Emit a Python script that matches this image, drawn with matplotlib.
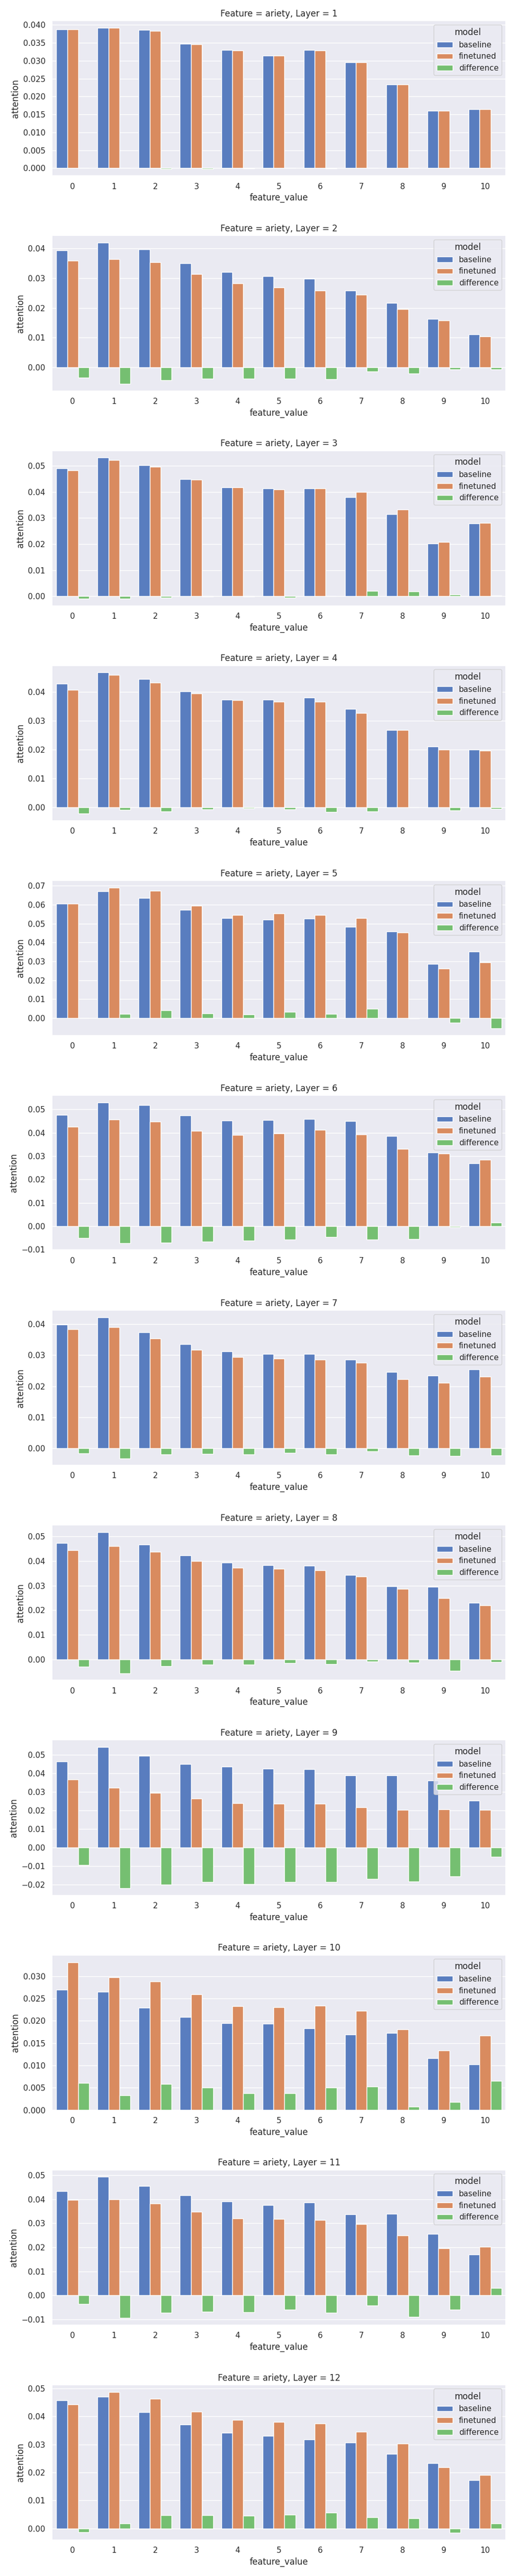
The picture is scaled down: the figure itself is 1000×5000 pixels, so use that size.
import matplotlib
matplotlib.use("Agg")
import matplotlib.pyplot as plt
import pandas as pd
import seaborn as sns

feature_values = list(range(11))
models = ["baseline", "finetuned", "difference"]

# attention per layer
baseline = {
    1: [0.0388, 0.0392, 0.0386, 0.0348, 0.0330, 0.0314, 0.0330, 0.0296, 0.0234, 0.0161, 0.0164],
    2: [0.0394, 0.0419, 0.0396, 0.0350, 0.0321, 0.0307, 0.0298, 0.0258, 0.0217, 0.0163, 0.0111],
    3: [0.0490, 0.0531, 0.0502, 0.0449, 0.0418, 0.0413, 0.0413, 0.0379, 0.0315, 0.0202, 0.0279],
    4: [0.0428, 0.0466, 0.0444, 0.0401, 0.0373, 0.0372, 0.0380, 0.0340, 0.0268, 0.0210, 0.0200],
    5: [0.0604, 0.0671, 0.0634, 0.0572, 0.0528, 0.0521, 0.0526, 0.0482, 0.0457, 0.0286, 0.0351],
    6: [0.0476, 0.0530, 0.0518, 0.0474, 0.0452, 0.0454, 0.0458, 0.0449, 0.0385, 0.0316, 0.0269],
    7: [0.0399, 0.0422, 0.0374, 0.0335, 0.0313, 0.0304, 0.0304, 0.0285, 0.0246, 0.0235, 0.0254],
    8: [0.0474, 0.0517, 0.0466, 0.0422, 0.0393, 0.0383, 0.0380, 0.0344, 0.0298, 0.0296, 0.0231],
    9: [0.0462, 0.0540, 0.0493, 0.0448, 0.0434, 0.0423, 0.0421, 0.0387, 0.0387, 0.0360, 0.0253],
    10: [0.0270, 0.0265, 0.0229, 0.0208, 0.0195, 0.0193, 0.0183, 0.0169, 0.0173, 0.0116, 0.0102],
    11: [0.0433, 0.0493, 0.0456, 0.0416, 0.0390, 0.0377, 0.0386, 0.0338, 0.0340, 0.0255, 0.0171],
    12: [0.0457, 0.0471, 0.0416, 0.0371, 0.0342, 0.0331, 0.0318, 0.0307, 0.0267, 0.0234, 0.0172],
}
finetuned = {
    1: [0.0388, 0.0392, 0.0384, 0.0346, 0.0329, 0.0314, 0.0329, 0.0296, 0.0234, 0.0161, 0.0164],
    2: [0.0359, 0.0364, 0.0353, 0.0313, 0.0283, 0.0269, 0.0258, 0.0244, 0.0196, 0.0157, 0.0105],
    3: [0.0482, 0.0522, 0.0497, 0.0447, 0.0417, 0.0409, 0.0413, 0.0399, 0.0333, 0.0208, 0.0282],
    4: [0.0407, 0.0457, 0.0431, 0.0394, 0.0370, 0.0366, 0.0365, 0.0327, 0.0268, 0.0200, 0.0196],
    5: [0.0604, 0.0691, 0.0674, 0.0595, 0.0546, 0.0553, 0.0546, 0.0530, 0.0453, 0.0261, 0.0295],
    6: [0.0426, 0.0456, 0.0447, 0.0408, 0.0390, 0.0396, 0.0412, 0.0392, 0.0330, 0.0311, 0.0285],
    7: [0.0383, 0.0390, 0.0354, 0.0318, 0.0294, 0.0289, 0.0285, 0.0276, 0.0223, 0.0211, 0.0231],
    8: [0.0444, 0.0461, 0.0438, 0.0400, 0.0372, 0.0369, 0.0362, 0.0336, 0.0286, 0.0250, 0.0220],
    9: [0.0366, 0.0320, 0.0292, 0.0262, 0.0237, 0.0235, 0.0235, 0.0216, 0.0202, 0.0204, 0.0202],
    10: [0.0331, 0.0298, 0.0288, 0.0259, 0.0233, 0.0231, 0.0234, 0.0222, 0.0181, 0.0134, 0.0167],
    11: [0.0398, 0.0399, 0.0383, 0.0348, 0.0320, 0.0318, 0.0313, 0.0296, 0.0250, 0.0195, 0.0202],
    12: [0.0443, 0.0488, 0.0463, 0.0418, 0.0388, 0.0380, 0.0375, 0.0346, 0.0303, 0.0218, 0.0190],
}

sns.set_theme(style="darkgrid")
fig, axes = plt.subplots(12, 1, figsize=(10, 50))

for i, layer in enumerate(range(1, 13)):
    b = baseline[layer]
    f = finetuned[layer]
    d = [ff - bb for bb, ff in zip(b, f)]
    df = pd.DataFrame({
        "feature_value": feature_values * 3,
        "attention": b + f + d,
        "model": ["baseline"] * 11 + ["finetuned"] * 11 + ["difference"] * 11,
    })
    ax = axes[i]
    sns.barplot(data=df, x="feature_value", y="attention", hue="model",
                hue_order=models, palette="muted", ax=ax)
    ax.set_title(f"Feature = ariety, Layer = {layer}")
    ax.legend(title="model", loc="upper right")

plt.tight_layout(h_pad=2.5)
plt.savefig("out.png", dpi=100)
